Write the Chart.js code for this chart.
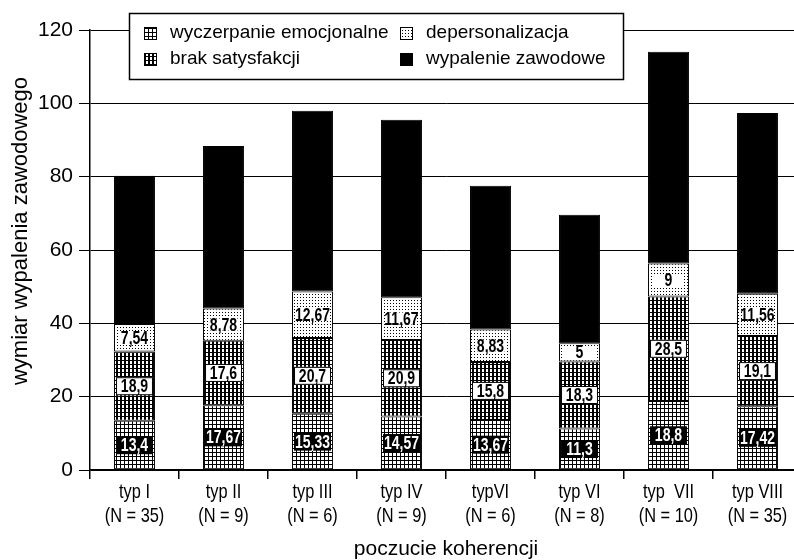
<!DOCTYPE html>
<html>
<head>
<meta charset="utf-8">
<script src="https://cdn.jsdelivr.net/npm/chart.js@4.4.1/dist/chart.umd.min.js"></script>
<style>
  html, body { margin: 0; padding: 0; background: #fff; }
  #wrap { width: 794px; height: 560px; position: relative; overflow: hidden; }
</style>
</head>
<body>
<div id="wrap"><canvas id="myChart" width="802" height="560"></canvas></div>
<script>
const categories = [
  ['typ I', '(N = 35)'], ['typ II', '(N = 9)'], ['typ III', '(N = 6)'], ['typ IV', '(N = 9)'],
  ['typVI', '(N = 6)'], ['typ VI', '(N = 8)'], ['typ  VII', '(N = 10)'], ['typ VIII', '(N = 35)']
];
const wyczerpanie = [13.4, 17.67, 15.33, 14.57, 13.67, 11.3, 18.8, 17.42];
const brakSatysfakcji = [18.9, 17.6, 20.7, 20.9, 15.8, 18.3, 28.5, 19.1];
const depersonalizacja = [7.54, 8.78, 12.67, 11.67, 8.83, 5, 9, 11.56];
const wypalenie = [40.4, 44.3, 49.3, 48.4, 39.2, 35.0, 57.8, 49.3];
const yTicks = [0, 20, 40, 60, 80, 100, 120];
const seriesNames = ['wyczerpanie emocjonalne', 'brak satysfakcji', 'depersonalizacja', 'wypalenie zawodowe'];
const xTitle = 'poczucie koherencji';
const yTitle = 'wymiar wypalenia zawodowego';

const FONT = "'Liberation Sans', Arial, sans-serif";

// small hatch patterns like the printed figure
function makePattern(size, drawFn) {
  const c = document.createElement('canvas');
  c.width = size; c.height = size;
  const g = c.getContext('2d');
  g.fillStyle = '#fff';
  g.fillRect(0, 0, size, size);
  g.fillStyle = '#000';
  drawFn(g);
  return g.createPattern(c, 'repeat');
}
const ctx = document.getElementById('myChart');
const patWycz = makePattern(4, g => { g.fillRect(0, 0, 4, 1); g.fillRect(0, 0, 1, 4); });
const patBrak = makePattern(4, g => { g.fillRect(0, 0, 4, 1); g.fillRect(0, 0, 2, 4); });
const patDep = makePattern(3, g => { g.fillRect(0, 0, 1, 1); });
const fills = [patWycz, patBrak, patDep, '#000'];

function fmt(v) {
  return String(v).replace('.', ',');
}

// condensed text, the print uses a narrow face
function narrowText(g, txt, x, y, sx) {
  g.save();
  g.translate(x, y);
  g.scale(sx, 1);
  g.fillText(txt, 0, 0);
  g.restore();
}

const segLabels = {
  id: 'segLabels',
  afterDatasetsDraw(chart) {
    const g = chart.ctx;
    g.save();
    g.font = 'bold 18px ' + FONT;
    g.textAlign = 'center';
    g.textBaseline = 'middle';
    [0, 1, 2].forEach(di => {
      const meta = chart.getDatasetMeta(di);
      meta.data.forEach((bar, i) => {
        const txt = fmt(chart.data.datasets[di].data[i]);
        const y = (bar.y + bar.base) / 2;
        const w = bar.width - 4;
        const h = 18;
        if (di === 0) {
          g.fillStyle = '#000';
          g.fillRect(bar.x - w / 2, y - h / 2, w, h);
          g.fillStyle = '#fff';
        } else if (di === 1) {
          g.fillStyle = '#fff';
          g.fillRect(bar.x - w / 2, y - h / 2, w, h);
          g.strokeStyle = '#000';
          g.lineWidth = 1;
          g.strokeRect(bar.x - w / 2 + 0.5, y - h / 2 + 0.5, w - 1, h - 1);
          g.fillStyle = '#000';
        } else {
          g.fillStyle = '#fff';
          g.fillRect(bar.x - w / 2 + 3, y - h / 2 + 3, w - 6, h - 6);
          g.fillStyle = '#000';
        }
        const tw = g.measureText(txt).width;
        const sx = Math.min(0.78, (w - 2) / tw);
        narrowText(g, txt, bar.x, y + 1, sx);
      });
    });
    g.restore();
  }
};

const textLayer = {
  id: 'textLayer',
  afterDraw(chart) {
    const g = chart.ctx;
    const xs = chart.scales.x;
    g.save();
    g.fillStyle = '#000';
    g.textAlign = 'center';
    g.textBaseline = 'middle';
    // category labels
    g.font = '21px ' + FONT;
    categories.forEach((lines, i) => {
      const x = xs.getPixelForValue(i);
      narrowText(g, lines[0], x, 492, 0.78);
      narrowText(g, lines[1], x, 516, 0.78);
    });
    // axis titles
    g.font = '21px ' + FONT;
    g.fillText(xTitle, 446, 549);
    g.translate(21, 231);
    g.rotate(-Math.PI / 2);
    g.font = '22px ' + FONT;
    g.fillText(yTitle, 0, 0);
    g.restore();

    // legend box
    g.save();
    g.fillStyle = '#fff';
    g.fillRect(129, 13, 494, 67);
    g.strokeStyle = '#000';
    g.lineWidth = 1.5;
    g.strokeRect(129.5, 13.5, 494, 66);
    g.font = '19px ' + FONT;
    g.textBaseline = 'middle';
    g.textAlign = 'left';
    const items = [
      [0, 144, 33], [2, 400, 33],
      [1, 144, 59], [3, 400, 59]
    ];
    items.forEach(([si, x, y]) => {
      g.fillStyle = fills[si];
      g.fillRect(x, y - 6, 13, 13);
      g.strokeStyle = '#000';
      g.lineWidth = 1;
      g.strokeRect(x + 0.5, y - 5.5, 12, 12);
      g.fillStyle = '#000';
      g.fillText(seriesNames[si], x + 26, y);
    });
    g.restore();
  }
};

const datasets = [wyczerpanie, brakSatysfakcji, depersonalizacja, wypalenie].map((d, i) => ({
  label: seriesNames[i],
  data: d,
  backgroundColor: fills[i],
  borderColor: '#000',
  borderWidth: 1,
  borderSkipped: false,
  barPercentage: 0.46,
  categoryPercentage: 1
}));

new Chart(ctx, {
  type: 'bar',
  data: { labels: categories, datasets: datasets },
  plugins: [segLabels, textLayer],
  options: {
    responsive: false,
    animation: false,
    layout: { padding: { top: 30, right: 0, left: 0, bottom: 0 } },
    plugins: {
      legend: { display: false },
      tooltip: { enabled: false }
    },
    scales: {
      x: {
        stacked: true,
        afterFit(scale) { scale.height = 90; },
        border: { color: '#000', width: 1.5 },
        grid: { drawOnChartArea: false, tickLength: 9, color: '#000', lineWidth: 1.5 },
        ticks: { color: 'rgba(0,0,0,0)', font: { family: FONT, size: 12 }, maxRotation: 0 }
      },
      y: {
        stacked: true,
        min: 0, max: 120,
        afterFit(scale) { scale.width = 90; },
        afterBuildTicks(scale) { scale.ticks = yTicks.map(v => ({ value: v })); },
        border: { color: '#000', width: 1.5 },
        grid: { color: '#000', lineWidth: 1, tickLength: 11 },
        ticks: { color: '#000', font: { family: FONT, size: 21 }, padding: 6 }
      }
    }
  }
});
</script>
</body>
</html>
